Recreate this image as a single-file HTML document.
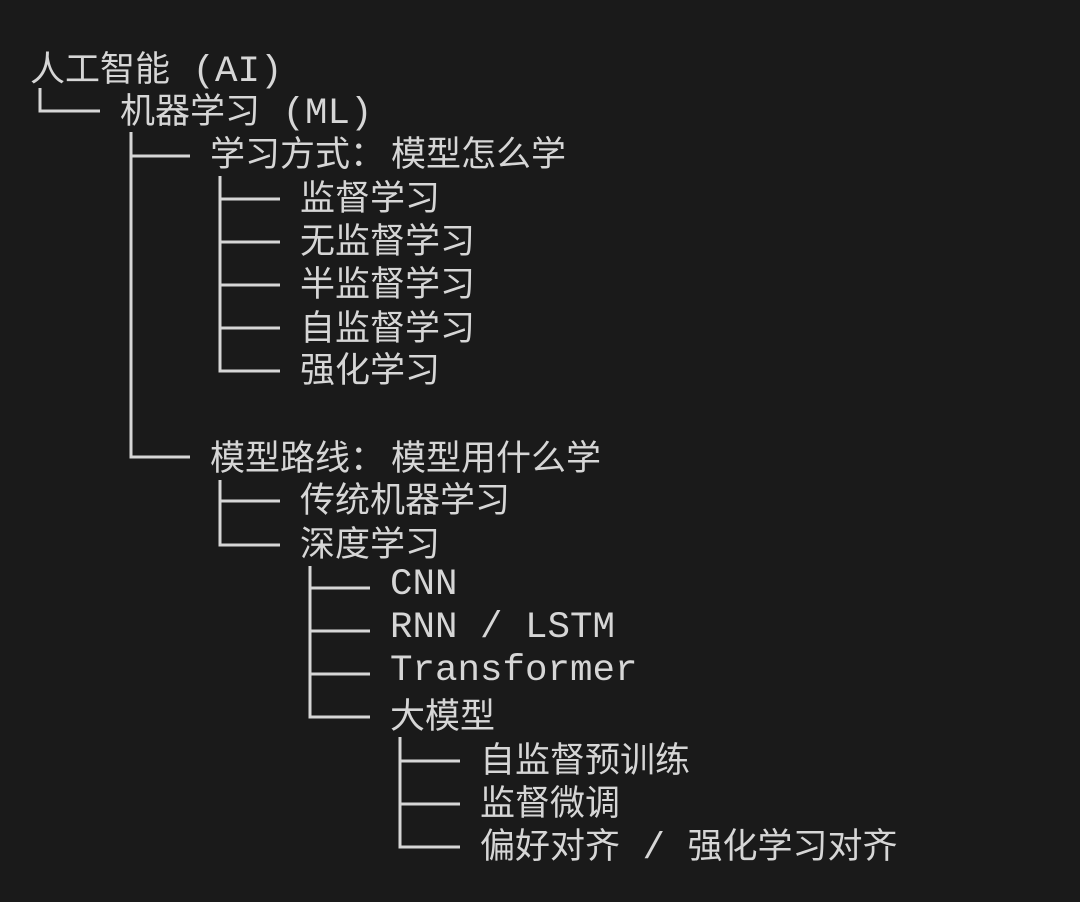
<!DOCTYPE html>
<html><head><meta charset="utf-8"><style>
html,body{margin:0;padding:0;background:#1a1a1a;}
body{width:1080px;height:902px;position:relative;overflow:hidden;font-family:"Noto Sans CJK SC","Liberation Mono",sans-serif;color:#d6d6d6;font-size:35px;}
.t{position:absolute;height:44px;line-height:44px;white-space:pre;}
.l{font-family:"Liberation Mono",monospace;font-size:37.5px;}
.c{margin-right:6px;}
svg{position:absolute;left:0;top:0;}
</style></head><body>
<svg width="1080" height="902"><g stroke="#d6d6d6" stroke-width="3" fill="none">
<path d="M40 88V111H100"/>
<path d="M131 132V457H190M131 156H190"/>
<path d="M220 176V371H280M220 199H280M220 242H280M220 285H280M220 328H280"/>
<path d="M220 480V545H280M220 501H280"/>
<path d="M310 566V717H370M310 588H370M310 631H370M310 674H370"/>
<path d="M400 737V847H460M400 761H460M400 804H460"/>
</g></svg>
<div class="t" style="left:30px;top:45px">人工智能<span class="l"> (AI)</span></div>
<div class="t" style="left:120px;top:87px">机器学习<span class="l"> (ML)</span></div>
<div class="t" style="left:210px;top:130px">学习方式<span class="c">：</span>模型怎么学</div>
<div class="t" style="left:300px;top:174px">监督学习</div>
<div class="t" style="left:300px;top:217px">无监督学习</div>
<div class="t" style="left:300px;top:260px">半监督学习</div>
<div class="t" style="left:300px;top:304px">自监督学习</div>
<div class="t" style="left:300px;top:346px">强化学习</div>
<div class="t" style="left:210px;top:434px">模型路线<span class="c">：</span>模型用什么学</div>
<div class="t" style="left:300px;top:476px">传统机器学习</div>
<div class="t" style="left:300px;top:520px">深度学习</div>
<div class="t l" style="left:390px;top:563px">CNN</div>
<div class="t l" style="left:390px;top:606px">RNN / LSTM</div>
<div class="t l" style="left:390px;top:649px">Transformer</div>
<div class="t" style="left:390px;top:692px">大模型</div>
<div class="t" style="left:480px;top:736px">自监督预训练</div>
<div class="t" style="left:480px;top:779px">监督微调</div>
<div class="t" style="left:480px;top:822px">偏好对齐<span class="l"> / </span>强化学习对齐</div>
</body></html>
